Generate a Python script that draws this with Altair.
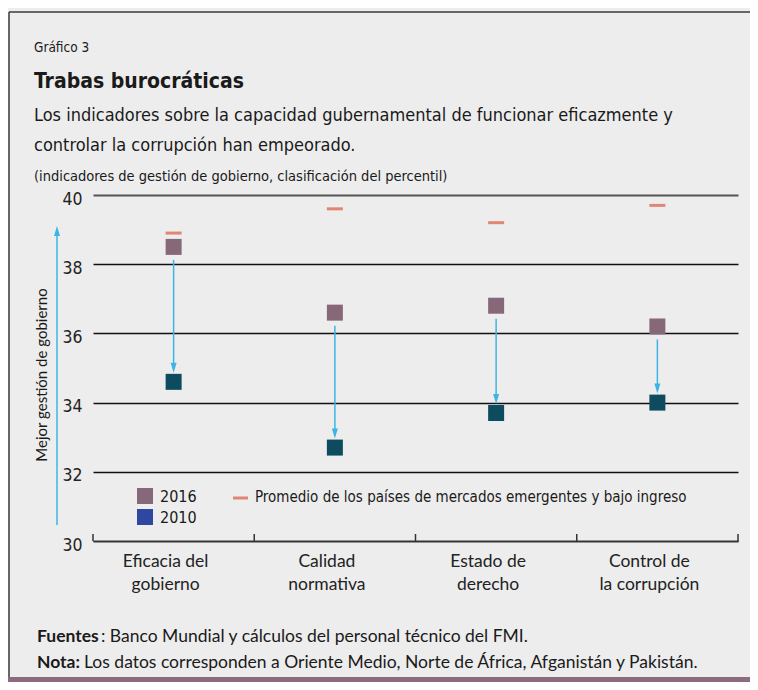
import altair as alt
import pandas as pd

categories = ["Eficacia del\ngobierno", "Calidad\nnormativa", "Estado de\nderecho", "Control de\nla corrupción"]
v2016 = [38.5, 36.6, 36.8, 36.2]
v2010 = [34.6, 32.7, 33.7, 34.0]
promedio = [38.9, 39.6, 39.2, 39.7]
y_ticks = [30, 32, 34, 36, 38, 40]

W, H = 645, 346
NARROW = "'Liberation Sans Narrow', 'Arial Narrow', 'DejaVu Sans Condensed', sans-serif"
REG = "Lato"
MAUVE = "#876878"
TEAL = "#0F4B5F"
ORANGE = "#E08672"
BLUE = "#2E47A0"
ARROW = "#3CB4E5"

df = pd.DataFrame({"cat": categories, "v2016": v2016, "v2010": v2010, "prom": promedio})

xenc = alt.X("cat:N", sort=categories, scale=alt.Scale(paddingInner=0, paddingOuter=0),
             axis=alt.Axis(title=None, domainColor="#333333", domainWidth=1.5, ticks=False,
                           labelAngle=0, labelFont=REG, labelFontSize=17.5, labelColor="#222222",
                           labelPadding=11, labelLineHeight=23, labelOffset=-8,
                           labelExpr="split(datum.label, '\\n')", grid=False))
yscale = alt.Scale(domain=[30, 40], nice=False, zero=False)
yaxis = alt.Axis(title=None, values=y_ticks, domain=False, ticks=False, labelFont=NARROW,
                 labelFontSize=17.5, labelColor="#222222", labelPadding=11, labelOffset=4,
                 grid=True,
                 gridColor={"condition": {"test": "datum.value === 40", "value": "#555555"}, "value": "#111111"},
                 gridWidth={"condition": {"test": "datum.value === 40", "value": 2.2}, "value": 1.4})

base = alt.Chart(df)

grid = base.mark_square(opacity=0).encode(x=xenc, y=alt.Y("v2016:Q", scale=yscale, axis=yaxis))

arrows = base.mark_rule(color=ARROW, strokeWidth=1.5, yOffset=13, y2Offset=-13).encode(
    x=alt.X("cat:N", sort=categories), y=alt.Y("v2016:Q", scale=yscale), y2="v2010:Q")
heads = base.mark_point(shape="M-0.6,-1L0.6,-1L0,1Z", size=100, filled=True, opacity=1,
                        color=ARROW, yOffset=-14).encode(
    x=alt.X("cat:N", sort=categories), y=alt.Y("v2010:Q", scale=yscale))

prom = base.mark_tick(color=ORANGE, thickness=3, size=16, opacity=1).encode(
    x=alt.X("cat:N", sort=categories), y=alt.Y("prom:Q", scale=yscale))
sq2016 = base.mark_square(size=256, color=MAUVE, opacity=1).encode(
    x=alt.X("cat:N", sort=categories), y=alt.Y("v2016:Q", scale=yscale))
sq2010 = base.mark_square(size=256, color=TEAL, opacity=1).encode(
    x=alt.X("cat:N", sort=categories), y=alt.Y("v2010:Q", scale=yscale))

xticks = base.mark_rule(color="#333333", strokeWidth=1.5, xOffset=-W / 8).encode(
    x=alt.X("cat:N", sort=categories), y=alt.value(H), y2=alt.value(H - 7))
xtick_end = alt.Chart(pd.DataFrame({"a": [0]})).mark_rule(color="#333333", strokeWidth=1.5).encode(
    x=alt.value(W), y=alt.value(H), y2=alt.value(H - 7))

one = pd.DataFrame({"a": [0]})

def txt(s, x, y, size, font=NARROW, weight="normal", color="#1a1a1a", angle=0, align="left", baseline="alphabetic"):
    kw = dict(text=s, font=font, fontSize=size, fontWeight=weight, color=color, align=align, baseline=baseline)
    if angle:
        kw["angle"] = angle
    return alt.Chart(one).mark_text(**kw).encode(x=alt.value(x), y=alt.value(y))

texts = [
    txt("Gráfico 3", -59, -143, 13.5),
    txt("Trabas burocráticas", -59, -107, 21, weight="bold"),
    txt("Los indicadores sobre la capacidad gubernamental de funcionar eficazmente y", -59, -74, 18),
    txt("controlar la corrupción han empeorado.", -59, -44, 18),
    txt("(indicadores de gestión de gobierno, clasificación del percentil)", -59, -14, 14.5),
    txt("Mejor gestión de gobierno", -51, 180, 15, font=REG, angle=270, align="center", baseline="middle"),
    txt("2016", 67, 302, 16, baseline="middle"),
    txt("2010", 67, 323, 16, baseline="middle"),
    txt("Promedio de los países de mercados emergentes y bajo ingreso", 162, 302, 15, baseline="middle"),
    txt("Fuentes", -56, 447, 17.5, font=REG, weight="bold"),
    txt(": Banco Mundial y cálculos del personal técnico del FMI.", 8, 447, 17.5, font=REG),
    txt("Nota:", -56, 473, 17.5, font=REG, weight="bold"),
    txt("Los datos corresponden a Oriente Medio, Norte de África, Afganistán y Pakistán.", -9, 473, 17.5, font=REG),
]

leg_sq1 = alt.Chart(one).mark_square(size=256, color=MAUVE, opacity=1).encode(x=alt.value(52), y=alt.value(301))
leg_sq2 = alt.Chart(one).mark_square(size=256, color=BLUE, opacity=1).encode(x=alt.value(52), y=alt.value(322))
leg_dash = alt.Chart(one).mark_rule(color=ORANGE, strokeWidth=3).encode(
    x=alt.value(140), x2=alt.value(155), y=alt.value(303))

left_arrow = alt.Chart(one).mark_rule(color=ARROW, strokeWidth=1.5).encode(
    x=alt.value(-36), y=alt.value(36), y2=alt.value(330))
left_head = alt.Chart(one).mark_point(shape="M-0.6,1L0.6,1L0,-1Z", size=100, filled=True, opacity=1,
                                      color=ARROW).encode(x=alt.value(-36), y=alt.value(36))

frame_top = alt.Chart(one).mark_rule(color="#3a3a3a", strokeWidth=1.5).encode(
    x=alt.value(-84), x2=alt.value(700), y=alt.value(-183))
frame_left = alt.Chart(one).mark_rule(color="#3a3a3a", strokeWidth=1.5).encode(
    x=alt.value(-84), y=alt.value(-183), y2=alt.value(490))
bottom_bar = alt.Chart(one).mark_rect(color="#8B6B7D").encode(
    x=alt.value(-90), x2=alt.value(700), y=alt.value(482), y2=alt.value(490))

chart = alt.layer(
    frame_top, frame_left, bottom_bar, grid, xticks, xtick_end, arrows, heads, prom, sq2016, sq2010,
    left_arrow, left_head, leg_sq1, leg_sq2, leg_dash, *texts
).properties(
    width=W, height=H,
    autosize=alt.AutoSizeParams(type="none"),
    padding={"left": 85, "top": 187, "right": 12, "bottom": 141},
    background="#EDEDED",
).configure_view(stroke=None)

chart.save("out.html", embed_options={"renderer": "svg", "actions": False})
